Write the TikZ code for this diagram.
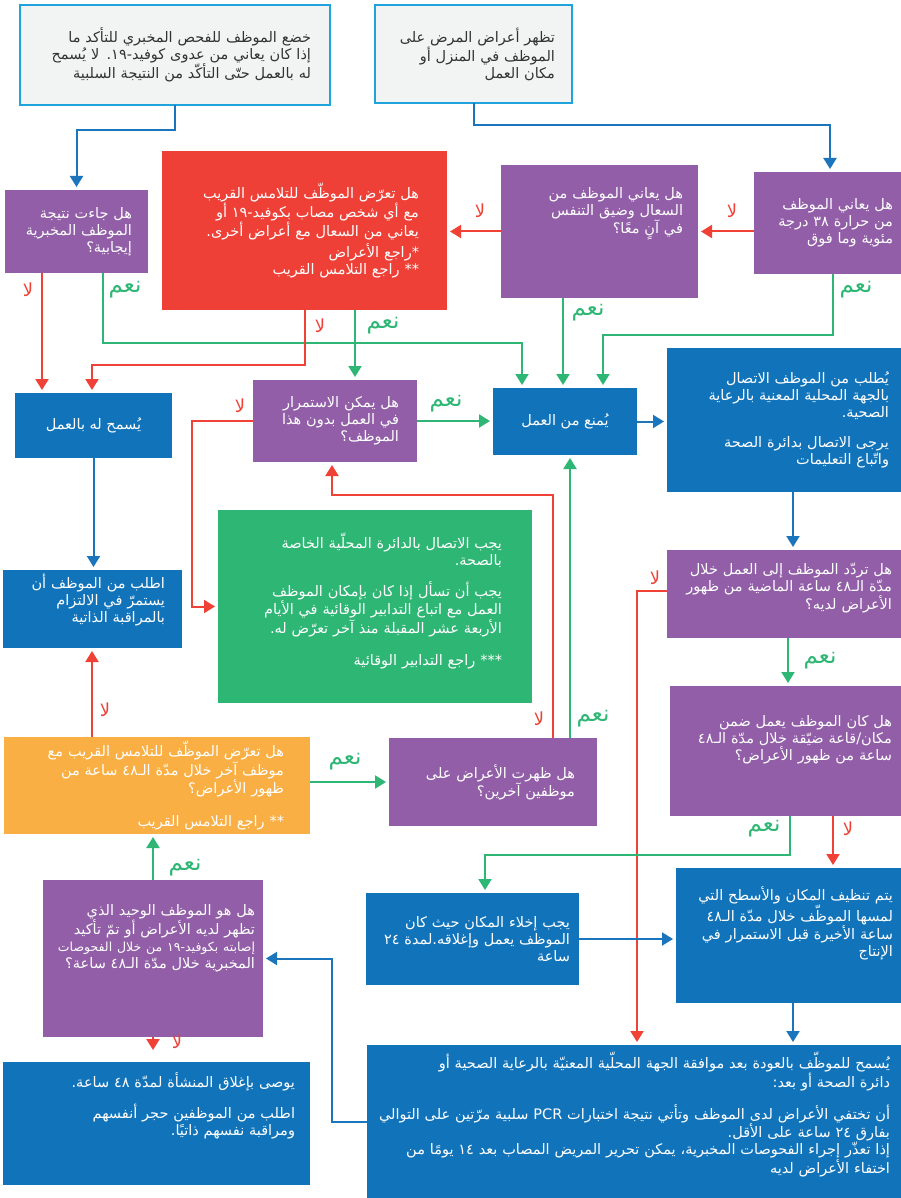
\documentclass[tikz,border=0pt]{standalone}
\usepackage{fontspec}
\usetikzlibrary{arrows.meta}
\newfontfamily\arabicfont[Script=Arabic]{DejaVu Sans}
\TeXXeTstate=1
\newcommand{\artxt}[1]{\beginR #1\endR}
\newcommand{\raisetxt}[1]{\par\kern#1}
\definecolor{plum}{HTML}{915EA7}
\definecolor{sea}{HTML}{1174BB}
\definecolor{alarm}{HTML}{EE4037}
\definecolor{leaf}{HTML}{2EB674}
\definecolor{amber}{HTML}{F9AF43}
\definecolor{paper}{HTML}{F2F4F4}
\definecolor{sky}{HTML}{1FA3DD}
\definecolor{ink}{HTML}{333333}
\definecolor{redline}{HTML}{EF4136}
\definecolor{blueline}{HTML}{1B75BC}

\begin{document}
\begin{tikzpicture}[x=1pt, y=-1pt,
    font=\arabicfont\fontsize{14.5}{17}\selectfont,
    flow/.style n args={3}{minimum width=#1pt, minimum height=#2pt, text width=#3pt,
      align=right, inner sep=0pt, outer sep=0pt, text=white},
    greybox/.style={fill=paper, draw=sky, line width=2.5pt, text=ink},
    plumbox/.style={fill=plum},
    seabox/.style={fill=sea},
    link/.style={line width=2pt, shorten >=3pt, -{Triangle[length=11pt,width=13pt]}},
    yesline/.style={link, leaf},
    noline/.style={link, redline},
    goline/.style={link, blueline},
    yes/.style={text=leaf, font=\arabicfont\fontsize{23}{23}\selectfont, inner sep=0pt},
    no/.style={text=redline, font=\arabicfont\fontsize{18}{18}\selectfont, inner sep=0pt}]

    \useasboundingbox[fill=white] (0,0) rectangle (901,1198);

    \node[flow={310}{100}{272}, greybox] (labtest) at (175,55)
      {\artxt{خضع الموظف للفحص المخبري للتأكد ما}\\
       \artxt{إذا كان يعاني من عدوى كوفيد-١٩. لا يُسمح}\\
       \artxt{له بالعمل حتّى التأكّد من النتيجة السلبية}};
    \node[flow={197}{98}{163}, greybox] (symptoms) at (473.5,54)
      {\artxt{تظهر أعراض المرض على}\\
       \artxt{الموظف في المنزل أو}\\
       \artxt{مكان العمل}};

    \node[flow={143}{83}{111}, plumbox] (positive) at (76.5,231.5)
      {\artxt{هل جاءت نتيجة}\\
       \artxt{الموظف المخبرية}\\
       \artxt{إيجابية؟}};
    \node[flow={285}{159}{229}, fill=alarm] (contact) at (304.5,230.5)
      {\artxt{هل تعرّض الموظّف للتلامس القريب}\\
       \artxt{مع أي شخص مصاب بكوفيد-١٩ أو}\\
       \artxt{يعاني من السعال مع أعراض أخرى.}\\[2pt]
       \artxt{*راجع الأعراض}\\
       \artxt{** راجع التلامس القريب}};
    \node[flow={197}{133}{167}, plumbox] (cough) at (599.5,231.5)
      {\artxt{هل يعاني الموظف من}\\
       \artxt{السعال وضيق التنفس}\\
       \artxt{في آنٍ معًا؟}\raisetxt{36pt}};
    \node[flow={147}{102}{131}, plumbox] (fever) at (827.5,223)
      {\artxt{هل يعاني الموظف}\\
       \artxt{من حرارة ٣٨ درجة}\\
       \artxt{مئوية وما فوق}};

    \node[seabox, minimum width=144pt, minimum height=67pt, inner sep=0pt, outer sep=0pt, text=white] (barred) at (565,421.5)
      {\artxt{يُمنع من العمل}};
    \node[seabox, minimum width=157pt, minimum height=65pt, inner sep=0pt, outer sep=0pt, text=white] (allowed) at (93.5,425.5)
      {\artxt{يُسمح له بالعمل}};
    \node[flow={164}{82}{128}, plumbox] (spare) at (335,421)
      {\artxt{هل يمكن الاستمرار}\\
       \artxt{في العمل بدون هذا}\\
       \artxt{الموظف؟}};
    \node[flow={234}{144}{210}, seabox] (callauth) at (784,420)
      {\artxt{يُطلب من الموظف الاتصال}\\
       \artxt{بالجهة المحلية المعنية بالرعاية}\\
       \artxt{الصحية.}\\[13pt]
       \artxt{يرجى الاتصال بدائرة الصحة}\\
       \artxt{واتّباع التعليمات}};

    \node[flow={314}{193}{254}, fill=leaf] (measures) at (375,606.5)
      {\artxt{يجب الاتصال بالدائرة المحلّية الخاصة}\\
       \artxt{بالصحة.}\\[13pt]
       \artxt{يجب أن تسأل إذا كان بإمكان الموظف}\\
       \artxt{العمل مع اتباع التدابير الوقائية في الأيام}\\
       \artxt{الأربعة عشر المقبلة منذ آخر تعرّض له.}\\[15pt]
       \artxt{*** راجع التدابير الوقائية}\raisetxt{12pt}};
    \node[flow={179}{78}{145}, seabox] (selfwatch) at (92.5,609)
      {\artxt{اطلب من الموظف أن}\\
       \artxt{يستمرّ في الالتزام}\\
       \artxt{بالمراقبة الذاتية}\raisetxt{18pt}};
    \node[flow={234}{88}{216}, plumbox] (attended) at (784,594)
      {\artxt{هل تردّد الموظف إلى العمل خلال}\\
       \artxt{مدّة الـ٤٨ ساعة الماضية من ظهور}\\
       \artxt{الأعراض لديه؟}\raisetxt{12pt}};
    \node[flow={231}{130}{213}, plumbox] (room) at (785.5,751)
      {\artxt{هل كان الموظف يعمل ضمن}\\
       \artxt{مكان/قاعة ضيّقة خلال مدّة الـ٤٨}\\
       \artxt{ساعة من ظهور الأعراض؟}\raisetxt{22pt}};

    \node[flow={306}{97}{254}, fill=amber] (closecontact) at (157,785.5)
      {\artxt{هل تعرّض الموظّف للتلامس القريب مع}\\
       \artxt{موظف آخر خلال مدّة الـ٤٨ ساعة من}\\
       \artxt{ظهور الأعراض؟}\\[16pt]
       \artxt{** راجع التلامس القريب}};
    \node[flow={208}{88}{164}, plumbox] (others) at (493,782)
      {\artxt{هل ظهرت الأعراض على}\\
       \artxt{موظفين آخرين؟}};

    \node[flow={220}{157}{204}, plumbox] (onlyone) at (153,958.5)
      {\artxt{هل هو الموظف الوحيد الذي}\\
       \artxt{تظهر لديه الأعراض أو تمّ تأكيد}\\
       \mbox{\fontsize{12.5}{17}\selectfont\artxt{إصابته بكوفيد-١٩ من خلال الفحوصات}}\\
       \artxt{المخبرية خلال مدّة الـ٤٨ ساعة؟}\raisetxt{40pt}};
    \node[flow={213}{92}{195}, seabox] (evacuate) at (472.5,939)
      {\artxt{يجب إخلاء المكان حيث كان}\\
       \artxt{الموظف يعمل وإغلاقه.لمدة ٢٤}\\
       \artxt{ساعة}};
    \node[flow={225}{135}{209}, seabox] (cleaning) at (788.5,935.5)
      {\artxt{يتم تنظيف المكان والأسطح التي}\\
       \artxt{لمسها الموظّف خلال مدّة الـ٤٨}\\
       \artxt{ساعة الأخيرة قبل الاستمرار في}\\
       \artxt{الإنتاج}\raisetxt{24pt}};

    \node[flow={307}{123}{277}, seabox] (closesite) at (156.5,1123.5)
      {\artxt{يوصى بإغلاق المنشأة لمدّة ٤٨ ساعة.}\\[12pt]
       \artxt{اطلب من الموظفين حجر أنفسهم}\\
       \artxt{ومراقبة نفسهم ذاتيًا.}\raisetxt{36pt}};
    \node[flow={534}{153}{512}, seabox] (returnwork) at (634,1121.5)
      {\artxt{يُسمح للموظّف بالعودة بعد موافقة الجهة المحلّية المعنيّة بالرعاية الصحية أو}\\
       \artxt{دائرة الصحة أو بعد:}\\[13pt]
       \artxt{أن تختفي الأعراض لدى الموظف وتأتي نتيجة اختبارات PCR سلبية مرّتين على التوالي}\\
       \artxt{بفارق ٢٤ ساعة على الأقل.}\\
       \artxt{إذا تعذّر إجراء الفحوصات المخبرية، يمكن تحرير المريض المصاب بعد ١٤ يومًا من}\\
       \artxt{اختفاء الأعراض لديه}\raisetxt{14pt}};

    \draw[goline] (labtest.south) -- ++(0,25) -| (positive.north);
    \draw[goline] (symptoms.south) -- ++(0,22) -| (fever.north -| 830,0);

    \draw[noline] (fever.west |- cough.east) -- (cough.east);
    \draw[noline] (cough.west) -- (cough.west -| contact.east);
    \draw[yesline] (fever.south -| 833,0) -- ++(0,61) -| (barred.north -| 603,0);
    \draw[yesline] (cough.south -| 563,0) -- (barred.north -| 563,0);
    \draw[yesline] (positive.south -| 103,0) -- ++(0,70) -| (barred.north -| 522,0);
    \draw[noline] (positive.south -| 42,0) -- (allowed.north -| 42,0);
    \draw[noline] (contact.south -| 305,0) -- ++(0,55) -| (allowed.north -| 92,0);
    \draw[yesline] (contact.south -| 355,0) -- (spare.north -| 355,0);

    \draw[yesline] (spare.east) -- (spare.east -| barred.west);
    \draw[noline] (spare.west) -- ++(-61,0) |- (measures.west);
    \draw[goline] (barred.east) -- (barred.east -| callauth.west);
    \draw[goline] (allowed.south) -- (allowed.south |- selfwatch.north);
    \draw[goline] (callauth.south -| 793,0) -- (attended.north -| 793,0);

    \draw[yesline] (attended.south -| 788,0) -- (room.north -| 788,0);
    \draw[noline] (attended.west |- 0,591) -| (returnwork.north -| 637,0);
    \draw[yesline] (room.south -| 790,0) -- ++(0,39) -| (evacuate.north -| 485,0);
    \draw[noline] (room.south -| 833,0) -- (cleaning.north -| 833,0);

    \draw[noline] (others.north -| 553,0) -- ++(0,-243) -| (spare.south -| 332,0);
    \draw[yesline] (others.north -| 570,0) -- (barred.south -| 570,0);
    \draw[yesline] (closecontact.east |- others.west) -- (others.west);
    \draw[noline] (closecontact.north -| 92,0) -- (selfwatch.south -| 92,0);
    \draw[yesline] (onlyone.north) -- (onlyone.north |- closecontact.south);
    \draw[noline, shorten >=12pt] (onlyone.south) -- (onlyone.south |- closesite.north);

    \draw[goline] (evacuate.east) -- (evacuate.east -| cleaning.west);
    \draw[goline] (cleaning.south -| 793,0) -- (returnwork.north -| 793,0);
    \draw[goline] (returnwork.west) -- ++(-35,0) |- (onlyone.east);

    \node[no] (noFever) at (732,211) {\artxt{لا}};
    \node[no] (noCough) at (480,211) {\artxt{لا}};
    \node[yes] (yesFever) at (856,290) {\artxt{نعم}};
    \node[yes] (yesCough) at (588,313) {\artxt{نعم}};
    \node[yes] (yesPositive) at (125,290) {\artxt{نعم}};
    \node[no] (noPositive) at (28,290) {\artxt{لا}};
    \node[no] (noContact) at (320,326) {\artxt{لا}};
    \node[yes] (yesContact) at (383,326) {\artxt{نعم}};
    \node[yes] (yesSpare) at (446,404) {\artxt{نعم}};
    \node[no] (noSpare) at (240,406) {\artxt{لا}};
    \node[no] (noAttended) at (655,578) {\artxt{لا}};
    \node[yes] (yesAttended) at (820,661) {\artxt{نعم}};
    \node[yes] (yesRoom) at (764,829) {\artxt{نعم}};
    \node[no] (noRoom) at (848,829) {\artxt{لا}};
    \node[no] (noOthers) at (539,719) {\artxt{لا}};
    \node[yes] (yesOthers) at (593,719) {\artxt{نعم}};
    \node[yes] (yesClose) at (345,762) {\artxt{نعم}};
    \node[no] (noClose) at (105,710) {\artxt{لا}};
    \node[yes] (yesOnly) at (185,868) {\artxt{نعم}};
    \node[no] (noOnly) at (177,1042) {\artxt{لا}};

\end{tikzpicture}
\end{document}
